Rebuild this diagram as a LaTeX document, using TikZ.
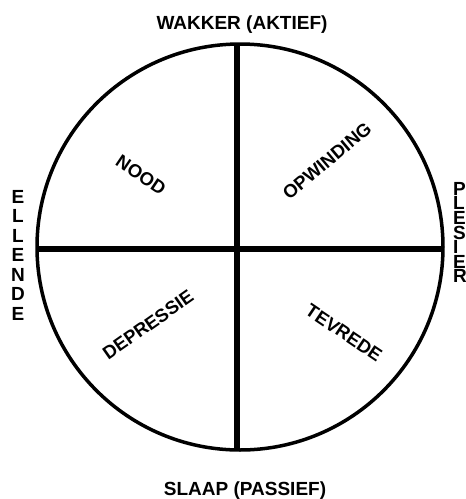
\documentclass[tikz,border=0pt]{standalone}
\usepackage{fontspec}
\setmainfont{Liberation Sans}
\begin{document}
\begin{tikzpicture}[x=1pt,y=-1pt,
  axislabel/.style={font=\fontsize{19}{19}\selectfont\bfseries, inner sep=0pt},
  quadlabel/.style={font=\fontsize{18.5}{18.5}\selectfont\bfseries, inner sep=0pt},
  ring/.style={line width=3.5pt},
  axisline/.style={line width=6pt}]
\useasboundingbox (0,0) rectangle (466,499);
\fill[white] (0,0) rectangle (466,499);
\node[ring, draw, circle, minimum size=406pt, inner sep=0pt] (c) at (240,247) {};
\coordinate (top) at (237,44);
\coordinate (bot) at (237,450);
\coordinate (lft) at (37,249);
\coordinate (rgt) at (443,249);
\draw[axisline] (top) -- (bot);
\draw[axisline] (lft) -- (rgt);
\node[axislabel, anchor=base] (wakker) at (242,29.5) {WAKKER (AKTIEF)};
\node[axislabel, anchor=base] (slaap) at (245,495) {SLAAP (PASSIEF)};
\foreach \l [count=\i] in {E,L,L,E,N,D,E}
  \node[axislabel, anchor=base] (ell\i) at (18,{203.3+(\i-1)*19.45}) {\l};
\foreach \l [count=\i] in {P,L,E,S,I,E,R}
  \node[axislabel, anchor=base west] (ple\i) at (453,{195.3+(\i-1)*14.6}) {\l};
\node[quadlabel, rotate=-34] (nood) at (141,175) {NOOD};
\node[quadlabel, rotate=40] (opw) at (327,161) {OPWINDING};
\node[quadlabel, rotate=35] (dep) at (148,325) {DEPRESSIE};
\node[quadlabel, rotate=-34] (tev) at (344,333) {TEVREDE};
\end{tikzpicture}
\end{document}
